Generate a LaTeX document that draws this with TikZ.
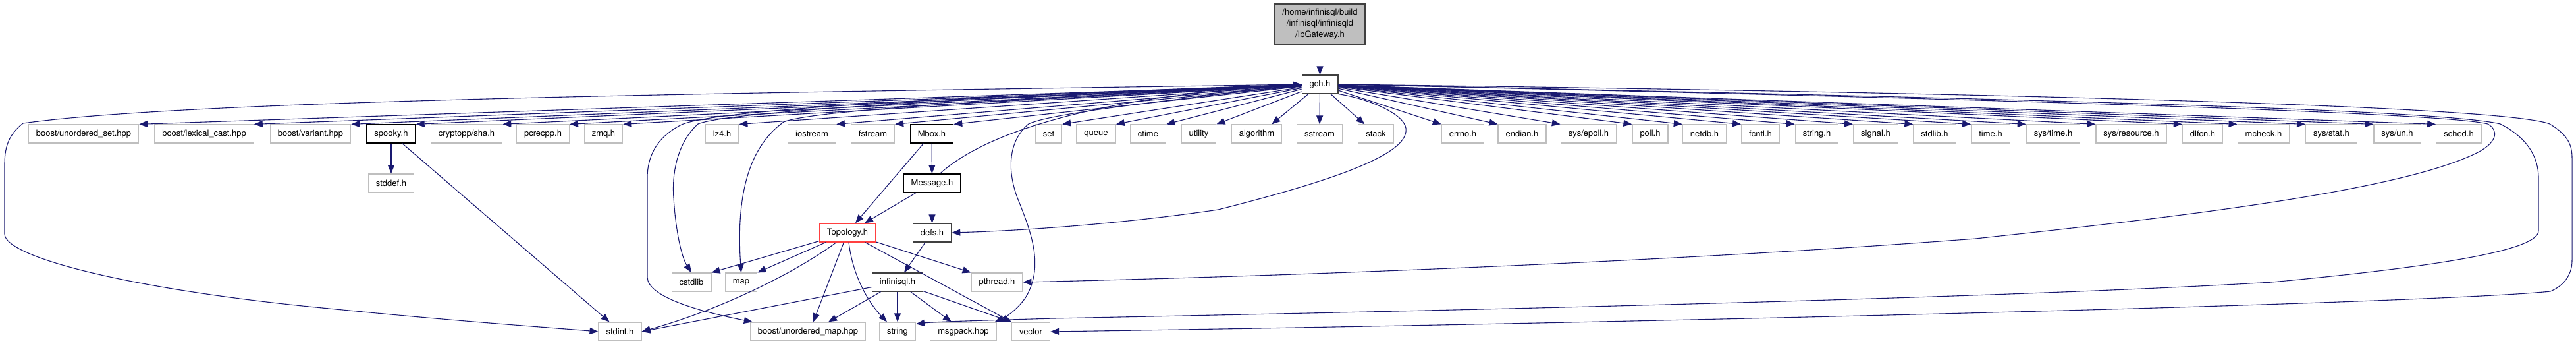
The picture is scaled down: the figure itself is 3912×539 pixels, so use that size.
\documentclass[tikz,border=0pt]{standalone}
\usepackage{fontspec}
\setmainfont{TeX Gyre Heros}
\usetikzlibrary{arrows.meta}
\definecolor{edgeblue}{HTML}{191970}
\definecolor{lightgrey}{HTML}{BFBFBF}
\definecolor{darkgrey}{HTML}{404040}
\definecolor{topored}{HTML}{FF4040}

\begin{document}
\begin{tikzpicture}[x=1pt,y=-1pt,font=\fontsize{13}{17}\selectfont,text=black,
  file/.style={draw=lightgrey,fill=white,line width=1.2pt,minimum height=28pt,inner xsep=11.5pt,inner ysep=0pt},
  docfile/.style={file,draw=black},
  greyfile/.style={file,draw=darkgrey},
  redfile/.style={file,draw=topored},
  rootfile/.style={draw=darkgrey,fill=lightgrey,line width=1.2pt,minimum width=137pt,minimum height=61pt,align=center,inner sep=2pt},
  dep/.style={-{Triangle[length=13pt,width=10pt]},draw=edgeblue,line width=1.1pt}]
\useasboundingbox (0,0) rectangle (3912,539);
\fill[white] (0,0) rectangle (3912,539);

% ROOT AND PRECOMPILED HEADER
\node[rootfile] (root) at (2004.5,36.5) {/home/infinisql/build\\/infinisql/infinisqld\\/IbGateway.h};
\node[greyfile] (gch) at (2004.5,128) {gch.h};
\draw[dep] (root) -- (gch);

% HEADERS INCLUDED BY gch.h
\node[file] (bus) at (127,203) {boost/unordered\_set.hpp};
\node[file] (blc) at (310,203) {boost/lexical\_cast.hpp};
\node[file] (bvar) at (471.5,203) {boost/variant.hpp};
\node[docfile] (spooky) at (594,203) {spooky.h};
\node[file] (sha) at (708.5,203) {cryptopp/sha.h};
\node[file] (pcre) at (824.5,203) {pcrecpp.h};
\node[file] (zmq) at (916.5,203) {zmq.h};
\node[file] (lzf) at (1096.5,203) {lz4.h};
\node[file] (ios) at (1233,203) {iostream};
\node[file] (fst) at (1325.5,203) {fstream};
\node[docfile] (mbox) at (1415,203) {Mbox.h};
\node[file] (set) at (1592.5,203) {set};
\node[file] (queue) at (1664.5,203) {queue};
\node[file] (ctime) at (1743.5,203) {ctime};
\node[file] (util) at (1820.5,203) {utility};
\node[file] (algo) at (1908.5,203) {algorithm};
\node[file] (sst) at (2004,203) {sstream};
\node[file] (stack) at (2089.5,203) {stack};
\node[file] (errno) at (2221.5,203) {errno.h};
\node[file] (endian) at (2311.5,203) {endian.h};
\node[file] (epoll) at (2412.5,203) {sys/epoll.h};
\node[file] (poll) at (2506,203) {poll.h};
\node[file] (netdb) at (2588.5,203) {netdb.h};
\node[file] (fcntl) at (2673.5,203) {fcntl.h};
\node[file] (strh) at (2759,203) {string.h};
\node[file] (signal) at (2848.5,203) {signal.h};
\node[file] (stdlibh) at (2938,203) {stdlib.h};
\node[file] (timeh) at (3023,203) {time.h};
\node[file] (systime) at (3118,203) {sys/time.h};
\node[file] (sysres) at (3236.5,203) {sys/resource.h};
\node[file] (dlfcn) at (3345,203) {dlfcn.h};
\node[file] (mcheck) at (3437.5,203) {mcheck.h};
\node[file] (sysstat) at (3540.5,203) {sys/stat.h};
\node[file] (sysun) at (3640.5,203) {sys/un.h};
\node[file] (sched) at (3734,203) {sched.h};

% LOWER LEVELS
\node[file] (stddef) at (594,278) {stddef.h};
\node[docfile] (msg) at (1415.5,278) {Message.h};
\node[redfile] (topo) at (1287,353) {Topology.h};
\node[greyfile] (defs) at (1415.5,353) {defs.h};
\node[file] (cstdlib) at (1050,428) {cstdlib};
\node[file] (map) at (1125.5,428) {map};
\node[greyfile] (infsql) at (1363,428) {infinisql.h};
\node[file] (pthread) at (1514,428) {pthread.h};
\node[file] (stdint) at (941.5,503) {stdint.h};
\node[file] (umap) at (1227,503) {boost/unordered\_map.hpp};
\node[file] (string) at (1363,503) {string};
\node[file] (msgpack) at (1463,503) {msgpack.hpp};
\node[file] (vector) at (1565.5,503) {vector};

% FAN OUT OF gch.h
\draw[dep] (gch) -- (bus.north east);
\draw[dep] (gch) -- (blc.north east);
\draw[dep] (gch) -- (bvar.north east);
\draw[dep] (gch) -- (spooky.north east);
\draw[dep] (gch) -- (sha.north east);
\draw[dep] (gch) -- (pcre.north east);
\draw[dep] (gch) -- (zmq.north east);
\draw[dep] (gch) -- (lzf.north east);
\draw[dep] (gch) -- (ios.north east);
\draw[dep] (gch) -- (fst.north east);
\draw[dep] (gch) -- (mbox.north east);
\draw[dep] (gch) -- (set.north east);
\draw[dep] (gch) -- (queue.north east);
\draw[dep] (gch) -- (ctime.north east);
\draw[dep] (gch) -- (util.north east);
\draw[dep] (gch) -- ([xshift=-16pt]algo.north east);
\draw[dep] (gch) -- (sst.north);
\draw[dep] (gch) -- ([xshift=10pt]stack.north west);
\draw[dep] (gch) -- (errno.north west);
\draw[dep] (gch) -- (endian.north west);
\draw[dep] (gch) -- (epoll.north west);
\draw[dep] (gch) -- (poll.north west);
\draw[dep] (gch) -- (netdb.north west);
\draw[dep] (gch) -- (fcntl.north west);
\draw[dep] (gch) -- (strh.north west);
\draw[dep] (gch) -- (signal.north west);
\draw[dep] (gch) -- (stdlibh.north west);
\draw[dep] (gch) -- (timeh.north west);
\draw[dep] (gch) -- (systime.north west);
\draw[dep] (gch) -- (sysres.north west);
\draw[dep] (gch) -- (dlfcn.north west);
\draw[dep] (gch) -- (mcheck.north west);
\draw[dep] (gch) -- (sysstat.north west);
\draw[dep] (gch) -- (sysun.north west);
\draw[dep] (gch) -- (sched.north west);

% LONG CURVES OUT OF gch.h
\draw[dep] (gch.west) .. controls (1200,140) and (300,150) .. (35,187) .. controls (12,205) and (7,225) .. (7,250)
  -- (7,355) .. controls (7,390) and (200,440) .. (500,468) .. controls (700,488) and (850,498) .. (stdint.west);
\draw[dep] (gch.west) .. controls (1500,148) and (1110,168) .. (1060,188) .. controls (1030,215) and (1020,260) .. (1023,300)
  .. controls (1026,350) and (1035,390) .. (cstdlib.north);
\draw[dep] (gch.west) .. controls (1600,148) and (1240,165) .. (1190,185) .. controls (1135,225) and (1118,300) .. (map.north);
\draw[dep] (gch.west) .. controls (1500,145) and (1080,165) .. (1033,190) .. controls (995,210) and (983,240) .. (983,270)
  -- (983,420) .. controls (983,450) and (1060,472) .. ([xshift=4pt]umap.north west);
\draw[dep] (gch.west) .. controls (1800,150) and (1600,170) .. (1562,188) .. controls (1530,215) and (1530,260) .. (1545,300)
  .. controls (1565,350) and (1585,400) .. (1560,447) .. controls (1550,465) and (1530,480) .. ([xshift=-3pt]msgpack.north east);
\draw[dep] (gch.south east) .. controls (2080,150) and (2140,175) .. (2135,200) .. controls (2130,240) and (2000,280) .. (1850,318)
  .. controls (1700,340) and (1550,350) .. (defs.east);
\draw[dep] (gch.east) .. controls (2800,145) and (3700,168) .. (3778,188) .. controls (3795,198) and (3792,215) .. (3765,230)
  .. controls (3650,290) and (3300,330) .. (3000,362) .. controls (2500,400) and (1900,420) .. (pthread.east);
\draw[dep] (gch.east) .. controls (3000,148) and (3700,165) .. (3797,188) .. controls (3840,210) and (3855,240) .. (3855,270)
  -- (3855,350) .. controls (3855,375) and (3750,400) .. (3450,428) .. controls (3000,455) and (2000,475) .. (1600,483)
  .. controls (1500,486) and (1420,488) .. ([yshift=-3pt]string.north east);
\draw[dep] (gch.east) .. controls (3000,140) and (3800,160) .. (3872,188) .. controls (3900,205) and (3906,220) .. (3906,240)
  -- (3906,395) .. controls (3906,420) and (3890,435) .. (3873,442) .. controls (3700,460) and (2500,490) .. (vector.east);

% INCLUDES BELOW THE FIRST ROW
\draw[dep] (spooky) -- (stddef);
\draw[dep] (spooky) -- ([xshift=-16pt]stdint.north);
\draw[dep] (mbox) -- (msg);
\draw[dep] (mbox) -- ([xshift=12pt]topo.north);
\draw[dep] (msg) -- ([xshift=26pt]topo.north);
\draw[dep] (msg) -- (defs);
\draw[dep] ([xshift=-32pt]msg.north east) .. controls (1470,225) and (1560,180) .. (1750,150) .. controls (1850,136) and (1930,130) .. (gch.west);
\draw[dep] (defs) -- ([xshift=10pt]infsql.north);
\draw[dep] (topo) -- (cstdlib.north east);
\draw[dep] (topo) -- (map.north east);
\draw[dep] ([xshift=-17pt]topo.south) .. controls (1220,405) and (1110,465) .. (stdint.east);
\draw[dep] (topo) -- ([xshift=8pt]umap.north);
\draw[dep] ([xshift=2pt]topo.south) .. controls (1295,420) and (1320,460) .. ([xshift=-16pt]string.north);
\draw[dep] (topo) -- (vector.north west);
\draw[dep] (topo) -- (pthread.north west);
\draw[dep] (infsql) -- (stdint.east);
\draw[dep] (infsql) -- ([xshift=31pt]umap.north);
\draw[dep] (infsql) -- (string);
\draw[dep] (infsql) -- ([xshift=-18pt]msgpack.north);
\draw[dep] (infsql) -- (vector.north west);
\end{tikzpicture}
\end{document}
